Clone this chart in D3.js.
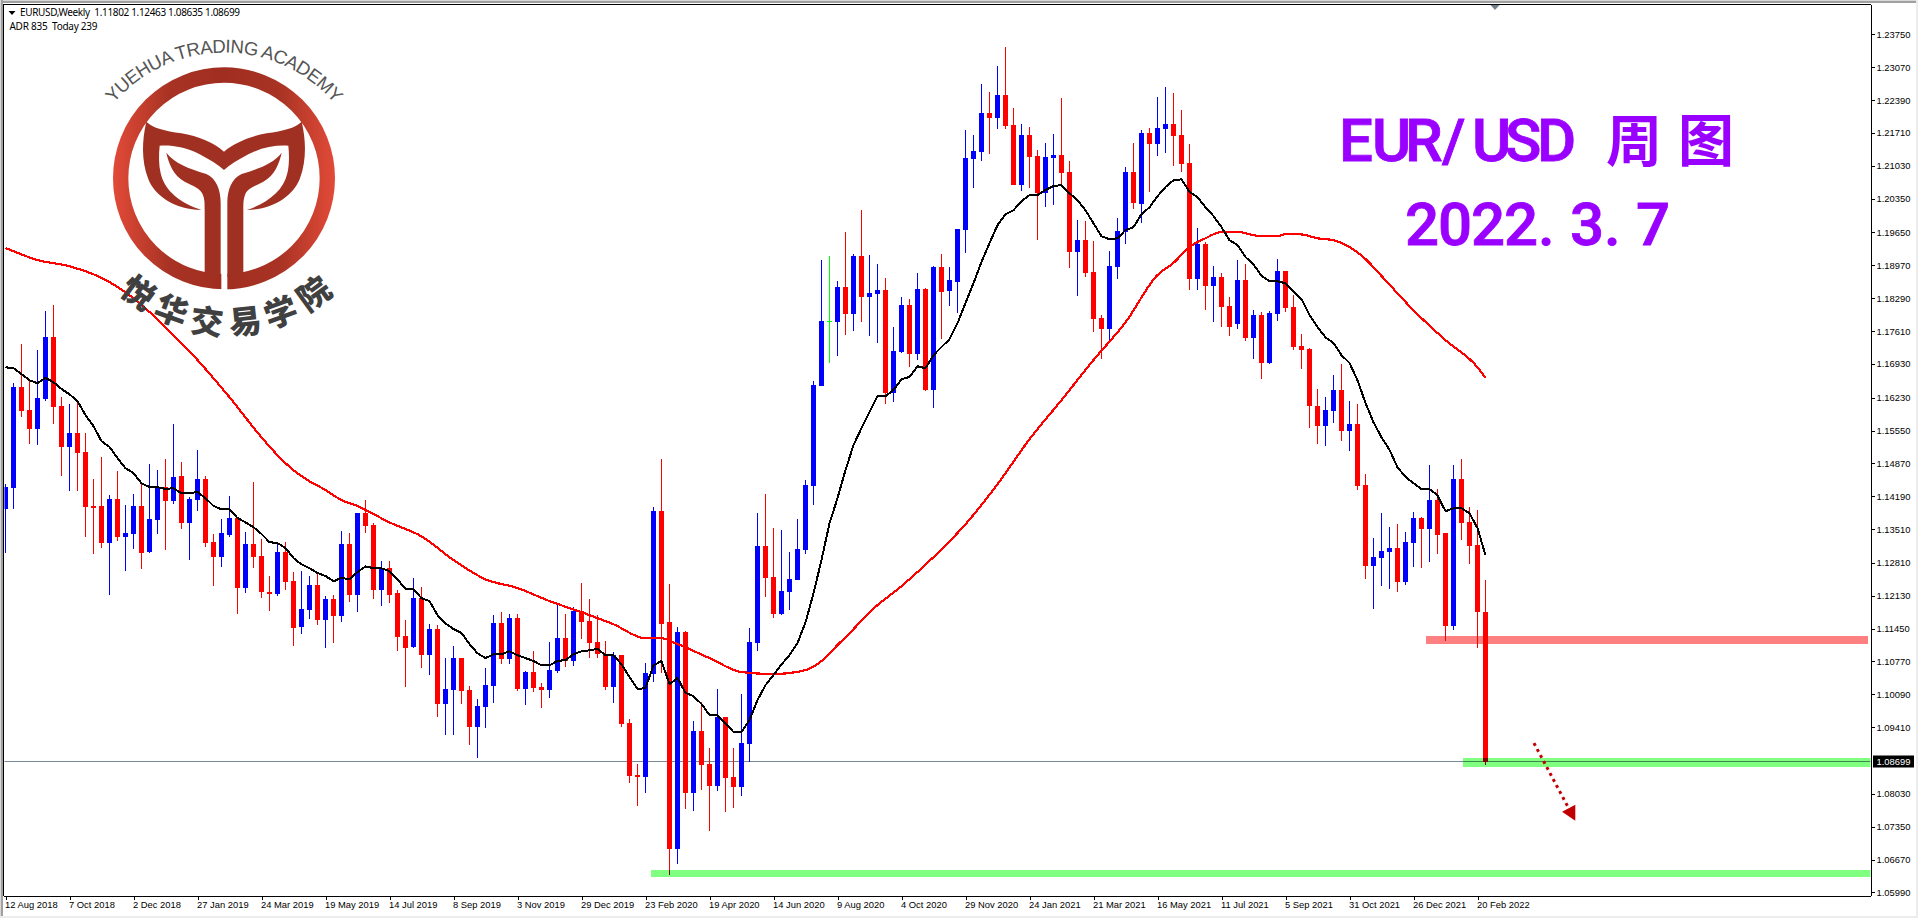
<!DOCTYPE html>
<html><head><meta charset="utf-8"><title>EUR/USD Weekly</title>
<script src="https://cdnjs.cloudflare.com/ajax/libs/d3/7.8.5/d3.min.js"></script>
<style>html,body{margin:0;padding:0;background:#fff;overflow:hidden}svg{display:block}</style>
</head><body><div id="c"></div>
<script>
const opens=[1.1392,1.1436,1.1645,1.1597,1.1558,1.1620,1.1748,1.1606,1.1521,1.1550,
1.1510,1.1399,1.1399,1.1322,1.1413,1.1334,1.1341,1.1399,1.1303,1.1370,
1.1438,1.1409,1.1461,1.1363,1.1411,1.1454,1.1324,1.1293,1.1339,1.1374,
1.1229,1.1320,1.1295,1.1221,1.1216,1.1303,1.1243,1.1148,1.1183,1.1235,
1.1163,1.1206,1.1171,1.1320,1.1214,1.1384,1.1359,1.1225,1.1270,1.1218,
1.1130,1.1107,1.1208,1.1090,1.1144,1.0989,1.1018,1.1084,1.1018,1.0941,
1.0983,1.1026,1.1156,1.1082,1.1167,1.1020,1.1055,1.1024,1.1018,1.1057,
1.1125,1.1078,1.1181,1.1160,1.1117,1.1092,1.1024,1.1090,1.0949,1.0842,
1.0838,1.1051,1.1388,1.1158,1.0689,1.1138,1.0805,1.0933,1.0865,1.0819,
1.0962,1.0838,1.0817,1.0906,1.1115,1.1316,1.1252,1.1175,1.1221,1.1245,
1.1308,1.1440,1.1647,1.1781,1.1779,1.1852,1.1796,1.1916,1.1831,1.1837,
1.1846,1.1632,1.1717,1.1815,1.1713,1.1848,1.1639,1.1893,1.1844,1.1862,
1.1970,1.2117,1.2131,1.2212,1.2202,1.2249,1.2187,1.2063,1.2166,1.2123,
1.2046,1.2119,1.2125,1.2090,1.1924,1.1949,1.1883,1.1788,1.1765,1.1893,
1.1966,1.2090,1.2024,1.2171,1.2148,1.2179,1.2189,1.2166,1.2109,1.1868,
1.1941,1.1854,1.1873,1.1813,1.1775,1.1866,1.1746,1.1794,1.1695,1.1796,
1.1885,1.1810,1.1730,1.1724,1.1606,1.1564,1.1595,1.1639,1.1554,1.1568,
1.1442,1.1274,1.1291,1.1303,1.1312,1.1241,1.1322,1.1374,1.1351,1.1411,
1.1343,1.1150,1.1454,1.1365,1.1318,1.11802];
const highs=[1.1444,1.1653,1.1734,1.1659,1.1721,1.1802,1.1815,1.1624,1.1610,1.1616,
1.1550,1.1454,1.1500,1.1421,1.1471,1.1401,1.1423,1.1444,1.1485,1.1473,
1.1496,1.1568,1.1490,1.1417,1.1515,1.1461,1.1341,1.1372,1.1419,1.1374,
1.1345,1.1448,1.1330,1.1254,1.1320,1.1324,1.1262,1.1264,1.1254,1.1258,
1.1212,1.1214,1.1347,1.1343,1.1384,1.1411,1.1363,1.1285,1.1285,1.1225,
1.1163,1.1250,1.1231,1.1154,1.1152,1.1084,1.1109,1.1084,1.1026,1.0999,
1.1063,1.1173,1.1179,1.1175,1.1175,1.1057,1.1098,1.1032,1.1117,1.1196,
1.1175,1.1190,1.1239,1.1206,1.1173,1.1119,1.1096,1.1090,1.0958,1.0865,
1.1074,1.1396,1.1496,1.1237,1.1148,1.1140,1.0954,1.0993,1.0898,1.1020,
1.0962,1.0898,1.1009,1.1146,1.1384,1.1423,1.1353,1.1349,1.1303,1.1372,
1.1452,1.1657,1.1908,1.1916,1.1864,1.1966,1.1920,1.2011,1.1918,1.1899,
1.1870,1.1769,1.1831,1.1827,1.1881,1.1850,1.1895,1.1920,1.1893,1.1972,
1.2177,1.2166,1.2272,1.2256,1.2309,1.2349,1.2222,1.2189,1.2183,1.2135,
1.2150,1.2169,1.2243,1.2113,1.1991,1.1988,1.1947,1.1794,1.1926,1.1995,
1.2100,1.2150,1.2177,1.2181,1.2245,1.2266,1.2253,1.2218,1.2148,1.1974,
1.1945,1.1895,1.1881,1.1831,1.1908,1.1899,1.1804,1.1800,1.1802,1.1910,
1.1885,1.1835,1.1755,1.1726,1.1641,1.1624,1.1670,1.1692,1.1616,1.1610,
1.1465,1.1332,1.1384,1.1355,1.1361,1.1345,1.1386,1.1376,1.1483,1.1434,
1.1343,1.1483,1.1496,1.1396,1.1390,1.12463];
const lows=[1.1301,1.1392,1.1583,1.1527,1.1525,1.1616,1.1568,1.1461,1.1430,1.1430,
1.1334,1.1299,1.1312,1.1214,1.1326,1.1264,1.1310,1.1268,1.1301,1.1341,
1.1308,1.1403,1.1351,1.1287,1.1388,1.1314,1.1233,1.1272,1.1334,1.1175,
1.1218,1.1270,1.1208,1.1181,1.1212,1.1225,1.1109,1.1134,1.1165,1.1152,
1.1105,1.1115,1.1158,1.1200,1.1179,1.1343,1.1206,1.1192,1.1198,1.1098,
1.1024,1.1105,1.1063,1.1049,1.0962,1.0925,1.0925,1.0989,1.0904,1.0877,
1.0939,1.0991,1.1071,1.1071,1.1016,1.0987,1.1014,1.0980,1.1001,1.1053,
1.1065,1.1067,1.1123,1.1084,1.1084,1.1018,1.0991,1.0941,1.0825,1.0778,
1.0805,1.1034,1.1053,1.0635,1.0658,1.0771,1.0767,1.0811,1.0726,1.0809,
1.0765,1.0773,1.0798,1.0869,1.1098,1.1210,1.1167,1.1173,1.1183,1.1245,
1.1299,1.1401,1.1647,1.1695,1.1709,1.1752,1.1761,1.1779,1.1750,1.1736,
1.1610,1.1614,1.1715,1.1686,1.1701,1.1637,1.1601,1.1744,1.1813,1.1798,
1.1922,1.2057,1.2113,1.2127,1.2179,1.2179,1.2063,1.2051,1.2057,1.1949,
1.2017,1.2022,1.2063,1.1891,1.1833,1.1873,1.1759,1.1703,1.1738,1.1868,
1.1941,1.2013,1.1984,1.2049,1.2123,1.2129,1.2102,1.2090,1.1846,1.1846,
1.1804,1.1779,1.1769,1.1750,1.1765,1.1740,1.1703,1.1661,1.1692,1.1781,
1.1800,1.1721,1.1682,1.1560,1.1527,1.1523,1.1570,1.1533,1.1512,1.1432,
1.1247,1.1185,1.1233,1.1227,1.1221,1.1235,1.1272,1.1270,1.1283,1.1299,
1.1119,1.1142,1.1328,1.1278,1.1105,1.08635];
const closes=[1.1438,1.1645,1.1595,1.1558,1.1622,1.1748,1.1603,1.1521,1.1550,1.1508,
1.1396,1.1394,1.1322,1.1413,1.1334,1.1343,1.1399,1.1301,1.1372,1.1436,
1.1409,1.1459,1.1363,1.1413,1.1454,1.1322,1.1293,1.1343,1.1374,1.1229,
1.1320,1.1293,1.1221,1.1216,1.1303,1.1241,1.1146,1.1185,1.1235,1.1163,
1.1206,1.1171,1.1320,1.1214,1.1384,1.1357,1.1225,1.1270,1.1214,1.1127,
1.1105,1.1208,1.1090,1.1144,1.0989,1.1020,1.1084,1.1016,1.0941,1.0985,
1.1028,1.1156,1.1082,1.1167,1.1020,1.1055,1.1022,1.1018,1.1059,1.1125,
1.1078,1.1181,1.1158,1.1115,1.1092,1.1024,1.1090,1.0947,1.0840,1.0838,
1.1053,1.1388,1.1154,1.0689,1.1138,1.0805,1.0933,1.0862,1.0819,1.0962,
1.0835,1.0817,1.0908,1.1117,1.1316,1.1250,1.1175,1.1223,1.1247,1.1310,
1.1442,1.1649,1.1781,1.1781,1.1852,1.1796,1.1916,1.1831,1.1839,1.1846,
1.1632,1.1719,1.1815,1.1713,1.1848,1.1639,1.1893,1.1842,1.1866,1.1972,
1.2119,1.2133,1.2212,1.2202,1.2249,1.2185,1.2063,1.2166,1.2121,1.2046,
1.2121,1.2125,1.2088,1.1924,1.1949,1.1881,1.1786,1.1765,1.1895,1.1968,
1.2090,1.2026,1.2171,1.2148,1.2181,1.2189,1.2164,1.2106,1.1868,1.1941,
1.1854,1.1873,1.1810,1.1769,1.1866,1.1746,1.1794,1.1695,1.1798,1.1885,
1.1808,1.1728,1.1721,1.1606,1.1564,1.1597,1.1639,1.1554,1.1568,1.1440,
1.1274,1.1293,1.1305,1.1312,1.1241,1.1324,1.1374,1.1351,1.1411,1.1339,
1.1150,1.1454,1.1363,1.1316,1.1179,1.08699];
const maFast=[1.1686,1.1684,1.1672,1.1659,1.1653,1.1664,1.1655,1.1641,1.1630,1.1616,
1.1587,1.1564,1.1533,1.1521,1.1498,1.1477,1.1467,1.1446,1.1438,1.1438,
1.1434,1.1436,1.1425,1.1425,1.1428,1.1415,1.1399,1.1392,1.1392,1.1374,
1.1365,1.1355,1.1341,1.1324,1.1322,1.1312,1.1291,1.1278,1.1270,1.1260,
1.1254,1.1243,1.1250,1.1247,1.1262,1.1274,1.1270,1.1270,1.1264,1.1247,
1.1227,1.1227,1.1208,1.1202,1.1173,1.1156,1.1144,1.1136,1.1113,1.1094,
1.1084,1.1092,1.1092,1.1098,1.1090,1.1084,1.1078,1.1069,1.1069,1.1078,
1.1080,1.1092,1.1098,1.1100,1.1103,1.1090,1.1090,1.1071,1.1045,1.1020,
1.1022,1.1069,1.1078,1.1030,1.1043,1.1012,1.1005,1.0989,1.0966,1.0966,
1.0949,1.0931,1.0931,1.0956,1.0997,1.1028,1.1049,1.1071,1.1090,1.1115,
1.1158,1.1218,1.1287,1.1363,1.1415,1.1473,1.1525,1.1560,1.1593,1.1626,
1.1626,1.1639,1.1661,1.1666,1.1688,1.1684,1.1711,1.1728,1.1744,1.1777,
1.1819,1.1860,1.1904,1.1943,1.1980,1.2003,1.2011,1.2030,1.2042,1.2042,
1.2053,1.2061,1.2063,1.2046,1.2032,1.2011,1.1984,1.1957,1.1951,1.1953,
1.1970,1.1976,1.2003,1.2017,1.2040,1.2059,1.2073,1.2075,1.2049,1.2038,
1.2017,1.1999,1.1976,1.1949,1.1939,1.1914,1.1899,1.1875,1.1864,1.1864,
1.1860,1.1842,1.1827,1.1794,1.1769,1.1748,1.1736,1.1711,1.1695,1.1659,
1.1612,1.1572,1.1541,1.1515,1.1479,1.1459,1.1446,1.1434,1.1434,1.1421,
1.1388,1.1394,1.1394,1.1384,1.1353,1.1297];
const maSlowIndex=[0,4,8,12,16,20,24,28,32,34,36,38,40,42,44,46,48,52,56,60,64,68,72,76,80,82,84,88,92,96,100,102,104,106,108,112,116,120,124,128,132,136,140,144,146,148,150,152,154,157,159,160,162,164,166,168,170,172,176,180,184,185];
const maSlow=[1.1933,1.1908,1.1895,1.1871,1.1829,1.1769,1.1701,1.1624,1.1541,1.1504,1.1473,1.1450,
1.1432,1.1411,1.1399,1.1382,1.1365,1.1336,1.1287,1.1247,1.1229,1.1202,1.1179,1.1154,
1.1125,1.1125,1.1113,1.1084,1.1055,1.1051,1.1059,1.1078,1.1111,1.1144,1.1179,1.1233,1.1293,
1.1361,1.1444,1.1537,1.1618,1.1701,1.1779,1.1877,1.1902,1.1935,1.1953,1.1966,1.1966,1.1957,1.1957,
1.1962,1.1961,1.1953,1.1949,1.1935,1.1910,1.1875,1.1804,1.1742,1.1686,1.1664];
const dateLabels=["12 Aug 2018","7 Oct 2018","2 Dec 2018","27 Jan 2019","24 Mar 2019","19 May 2019","14 Jul 2019","8 Sep 2019","3 Nov 2019","29 Dec 2019","23 Feb 2020","19 Apr 2020","14 Jun 2020","9 Aug 2020","4 Oct 2020","29 Nov 2020","24 Jan 2021","21 Mar 2021","16 May 2021","11 Jul 2021","5 Sep 2021","31 Oct 2021","26 Dec 2021","20 Feb 2022"];
const priceTicks=[1.2375,1.2307,1.2239,1.2171,1.2103,1.2035,1.1965,1.1897,1.1829,1.1761,1.1693,1.1623,1.1555,1.1487,1.1419,1.1351,1.1281,1.1213,1.1145,1.1077,1.1009,1.0941,1.0803,1.0735,1.0667,1.0599];
const lastPrice=1.08699;
const bandLevels=[1.1130,1.1113,1.0877,1.0858,1.0645,1.0631];
const arrowPrices=[1.0908,1.0773];
const arrowBars=[191.06,195.4];

const W=1918,H=918,pL=4,pR=1870.5,pT=4.5,pB=895.5;
const x=d3.scaleLinear().domain([0,1]).range([5.5,13.5]);
const y=d3.scaleLinear().domain([1.0599,1.2375]).range([892.4,34.4]);
const svg=d3.select("#c").append("svg").attr("width",W).attr("height",H);
const defs=svg.append("defs");
defs.append("clipPath").attr("id","plot").append("rect").attr("x",pL+.5).attr("y",pT).attr("width",pR-pL-.5).attr("height",pB-pT);

// window chrome
svg.append("rect").attr("width",W).attr("height",H).attr("fill","#fff");
svg.append("rect").attr("width",W).attr("height",3).attr("fill","#a0a0a0");
svg.append("rect").attr("width",W).attr("height",1).attr("fill","#d8d8d8");
svg.append("rect").attr("width",3).attr("height",H).attr("fill","#a0a0a0");
svg.append("rect").attr("width",1).attr("height",H).attr("fill","#d8d8d8");
svg.append("rect").attr("y",H-2).attr("width",W).attr("height",2).attr("fill","#ececec");
svg.append("rect").attr("x",W-2).attr("width",2).attr("height",H).attr("fill","#ececec");

const plot=svg.append("g").attr("clip-path","url(#plot)");
const idx=d3.range(opens.length);

// bid line
const bidY=Math.floor(y(lastPrice))+.5;
plot.append("line").attr("x1",pL).attr("x2",pR).attr("y1",bidY).attr("y2",bidY).attr("stroke","#778899").attr("stroke-width",1);

// candles
const col=i=>closes[i]>opens[i]?"#0000ff":closes[i]<opens[i]?"#ff0000":"#00ff00";
const cg=plot.append("g").attr("shape-rendering","crispEdges");
cg.selectAll("rect.w").data(idx).join("rect").attr("class","w")
 .attr("x",i=>x(i)-.5).attr("width",1).attr("y",i=>y(highs[i])).attr("height",i=>y(lows[i])-y(highs[i])).attr("fill",col);
cg.selectAll("rect.b").data(idx).join("rect").attr("class","b")
 .attr("x",i=>x(i)-2.5).attr("width",5)
 .attr("y",i=>y(Math.max(opens[i],closes[i])))
 .attr("height",i=>Math.max(2,y(Math.min(opens[i],closes[i]))-y(Math.max(opens[i],closes[i]))))
 .attr("fill",col);
// doji is only a thin cross
cg.selectAll("rect.b").filter(i=>closes[i]===opens[i]).attr("height",1);

// moving averages
const line=d3.line().x(d=>x(d[0])).y(d=>y(d[1]));
plot.append("path").attr("d",line.curve(d3.curveMonotoneX)(maSlowIndex.map((k,j)=>[k,maSlow[j]]))).attr("fill","none").attr("stroke","#ff0000").attr("stroke-width",2.2).attr("shape-rendering","crispEdges");
plot.append("path").attr("d",line.curve(d3.curveLinear)(maFast.map((v,i)=>[i,v]))).attr("fill","none").attr("stroke","#000").attr("stroke-width",2).attr("shape-rendering","crispEdges");

// zones
const bands=[{a:bandLevels[0],b:bandLevels[1],x0:177.6,c:"#ff8080"},{a:bandLevels[2],b:bandLevels[3],x0:182.2,c:"#80ff80"},{a:bandLevels[4],b:bandLevels[5],x0:80.7,c:"#80ff80"}];
plot.selectAll("rect.z").data(bands).join("rect").attr("class","z")
 .attr("x",d=>x(d.x0)).attr("y",d=>y(d.a)).attr("height",d=>y(d.b)-y(d.a))
 .attr("width",(d,i)=>(i===0?1867.5:pR)-x(d.x0))
 .attr("fill",d=>d.c).style("mix-blend-mode","multiply").attr("shape-rendering","crispEdges");

// forecast arrow
const ax0=x(arrowBars[0]),ay0=y(arrowPrices[0]),ax1=x(arrowBars[1]),ay1=y(arrowPrices[1]);
svg.append("line").attr("x1",ax0).attr("y1",ay0).attr("x2",ax1).attr("y2",ay1)
 .attr("stroke","#c00000").attr("stroke-width",3).attr("stroke-dasharray","3 3.8");
const ang=Math.atan2(ay1-ay0,ax1-ax0),hl=14,hw=7.5;
const tx=ax1+Math.cos(ang)*hl,ty=ay1+Math.sin(ang)*hl;
svg.append("path").attr("d",`M${tx},${ty}L${ax1-Math.sin(ang)*hw},${ay1+Math.cos(ang)*hw}L${ax1+Math.sin(ang)*hw},${ay1-Math.cos(ang)*hw}Z`).attr("fill","#c00000");

// axes
const axFont="'Liberation Sans',sans-serif";
const xAxis=d3.axisBottom(x).tickValues(dateLabels.map((d,i)=>i*8)).tickFormat((d,i)=>dateLabels[i]).tickSize(4).tickSizeOuter(0);
const gx=svg.append("g").attr("transform",`translate(0,${pB})`).call(xAxis);
gx.select(".domain").attr("d",`M${pL},0.5H${pR}`).attr("stroke","#000").attr("shape-rendering","crispEdges");
gx.selectAll(".tick line").attr("stroke","#000").attr("shape-rendering","crispEdges");
gx.selectAll(".tick text").attr("text-anchor","start").attr("x",-1).attr("y",6).attr("font-family",axFont).attr("font-size",9.4).attr("fill","#000");
const yAxis=d3.axisRight(y).tickValues(priceTicks).tickFormat(d3.format(".5f")).tickSize(4).tickPadding(2).tickSizeOuter(0);
const gy=svg.append("g").attr("transform",`translate(${pR},0)`).call(yAxis);
gy.select(".domain").attr("d",`M0.5,${pT}V${pB}`).attr("stroke","#000").attr("shape-rendering","crispEdges");
gy.selectAll(".tick line").attr("stroke","#000").attr("shape-rendering","crispEdges");
gy.selectAll(".tick text").attr("font-family",axFont).attr("font-size",9.4).attr("fill","#000");

// frame top & left
svg.append("path").attr("d",`M${pL-.5},${pB}V${pT}H${pR}`).attr("fill","none").attr("stroke","#000").attr("shape-rendering","crispEdges");

// last price label
svg.append("rect").attr("x",1873).attr("y",bidY-6).attr("width",41).attr("height",12).attr("fill","#000");
svg.append("text").attr("x",1876.5).attr("y",bidY+3.5).attr("font-family",axFont).attr("font-size",9.4).attr("fill","#fff").text(d3.format(".5f")(lastPrice));

// top marker
svg.append("path").attr("d","M1490.5,5H1499.5L1495,10Z").attr("fill","#708090");

// header
svg.append("path").attr("d","M8.5,11H15.5L12,15Z").attr("fill","#000");
svg.append("text").attr("x",20).attr("y",16).attr("font-family","'Noto Sans',sans-serif").attr("font-size",10).attr("fill","#000").style("white-space","pre").attr("textLength",220).attr("lengthAdjust","spacing").text("EURUSD,Weekly  1.11802 1.12463 1.08635 1.08699");
svg.append("text").attr("x",9.5).attr("y",29.5).attr("font-family","'Noto Sans',sans-serif").attr("font-size",10).attr("fill","#000").style("white-space","pre").attr("textLength",88).attr("lengthAdjust","spacing").text("ADR 835  Today 239");

// title
const titleText=(s,xs,base)=>svg.append("text").attr("x",xs.join(" ")).attr("y",base)
   .attr("font-family","Roboto,'Noto Sans CJK SC',sans-serif").attr("font-weight",500).attr("font-size",60)
   .attr("fill","#9900ff").attr("stroke","#9900ff").attr("stroke-width",.8).text(s);
titleText("EUR/USD",[1339,1372,1405,1442,1472,1505,1537],161);
svg.append("text").attr("x","1606 1678").attr("y",161).attr("font-family","'Noto Sans CJK SC',sans-serif").attr("font-weight",700).attr("font-size",56).attr("fill","#9900ff").text("周图");
titleText("2022.3.7",[1405,1438,1471,1504,1538,1570,1604,1636],245);

// logo
const logo=svg.append("g").attr("transform","scale(0.33333)");
const g=defs.append("linearGradient").attr("id","ring").attr("gradientUnits","userSpaceOnUse").attr("x1",339).attr("x2",1005).attr("y1",0).attr("y2",0);
[[0,"#e24a38"],[.25,"#a83324"],[.5,"#a02e20"],[.75,"#a83324"],[1,"#e24a38"]].forEach(s=>g.append("stop").attr("offset",s[0]).attr("stop-color",s[1]));
const cx=672,cy=535;
logo.append("circle").attr("cx",cx).attr("cy",cy).attr("r",310).attr("fill","none").attr("stroke","url(#ring)").attr("stroke-width",46);
logo.append("rect").attr("x",664).attr("y",800).attr("width",18).attr("height",80).attr("fill","#fff");
const dark="#a03022";
// right half of the tail and stem, mirrored for the left half
const dTail="M672,455C700,430 750,408 800,400C850,392 885,385 905,365C918,420 920,480 900,535C880,590 815,630 740,630C800,610 850,575 862,520C868,495 868,465 865,437C825,435 785,442 745,463C715,480 690,493 672,510Z";
const dStem="M845,458C838,490 825,525 790,545C765,558 742,565 735,585C730,600 730,610 730,630V830H682V610C682,570 695,535 725,522C780,505 820,490 845,458Z";
[null,`translate(${2*cx},0) scale(-1,1)`].forEach(t=>{
  const s=logo.append("g"); if(t)s.attr("transform",t);
  s.append("path").attr("d",dTail).attr("fill",dark);
  s.append("path").attr("d",dStem).attr("fill",dark);
});
defs.append("path").attr("id","arcTxt").attr("d",`M${cx-430},517A437,437 0 0 1 ${cx+430},517`);
logo.append("text").attr("font-family","'Liberation Sans',sans-serif").attr("font-size",56).attr("letter-spacing",-1.6).attr("fill","#555")
 .append("textPath").attr("href","#arcTxt").attr("startOffset","50%").attr("text-anchor","middle").text("YUEHUA TRADING ACADEMY");
const cn=[["悦",420,872,36],["华",517,925,20],["交",622,957,7],["易",735,957,-6],["学",840,930,-20],["院",937,875,-36]];
logo.selectAll("text.cn").data(cn).join("text").attr("class","cn")
 .attr("transform",d=>`translate(${d[1]},${d[2]}) rotate(${d[3]})`)
 .attr("text-anchor","middle").attr("dominant-baseline","central")
 .attr("font-family","'Noto Sans CJK SC',sans-serif").attr("font-weight",900).attr("font-size",98).attr("fill","#404040").text(d=>d[0]);
</script></body></html>
